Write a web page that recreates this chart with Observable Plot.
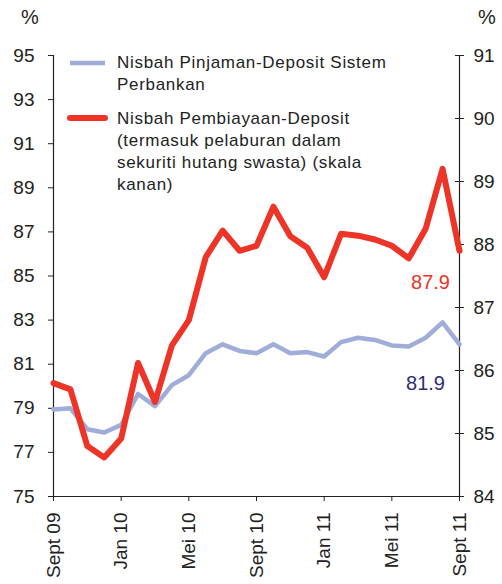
<!DOCTYPE html>
<html><head><meta charset="utf-8">
<script src="https://cdn.jsdelivr.net/npm/d3@7"></script>
<script src="https://cdn.jsdelivr.net/npm/@observablehq/plot@0.6"></script>
<style>body{margin:0;background:#fff;font-family:"Liberation Sans",Arial,sans-serif}</style>
</head><body><div id="chart"></div>
<script>
const months = ["Sept 09","Okt 09","Nov 09","Dis 09","Jan 10","Feb 10","Mac 10","Apr 10","Mei 10","Jun 10","Jul 10","Ogos 10","Sept 10","Okt 10","Nov 10","Dis 10","Jan 11","Feb 11","Mac 11","Apr 11","Mei 11","Jun 11","Jul 11","Ogos 11","Sept 11"];
const tickIdx = [0,4,8,12,16,20,24];
const tickLabels = ["Sept 09","Jan 10","Mei 10","Sept 10","Jan 11","Mei 11","Sept 11"];
// Nisbah Pinjaman-Deposit Sistem Perbankan (left scale, %)
const pinjaman = [78.95,79.0,78.05,77.9,78.25,79.65,79.1,80.05,80.5,81.5,81.9,81.6,81.5,81.9,81.5,81.55,81.35,82.0,82.2,82.1,81.85,81.8,82.2,82.9,81.9];
// Nisbah Pembiayaan-Deposit (right scale, %)
const pembiayaan = [85.8,85.7,84.8,84.62,84.92,86.12,85.5,86.4,86.8,87.8,88.22,87.9,87.98,88.6,88.13,87.95,87.48,88.17,88.14,88.08,87.98,87.78,88.25,89.2,87.9];
const leftTicks = [75,77,79,81,83,85,87,89,91,93,95];
const rightTicks = [84,85,86,87,88,89,90,91];
const legendLabels = [["Nisbah Pinjaman-Deposit Sistem","Perbankan"],["Nisbah Pembiayaan-Deposit","(termasuk pelaburan dalam","sekuriti hutang swasta) (skala","kanan)"]];

const toLeft = r => 75 + (r - 84) * 20 / 7;
const blueData = pinjaman.map((v,i)=>({i, v}));
const redData = pembiayaan.map((v,i)=>({i, v: toLeft(v), raw: v}));
const BLUE = "#9fadd8", RED = "#ee3327";

const chart = Plot.plot({
  width: 502, height: 584,
  marginLeft: 53, marginRight: 43, marginTop: 55, marginBottom: 88,
  style: {fontFamily: '"Liberation Sans", Arial, sans-serif', color: "#222", background: "#fff"},
  x: {type: "linear", domain: [0, 24]},
  y: {domain: [75, 95]},
  marks: [
    Plot.ruleX([0, 24], {stroke: "#222", strokeWidth: 1.2}),
    Plot.ruleY([75], {stroke: "#222", strokeWidth: 1.2}),
    Plot.axisY({ticks: leftTicks, tickSize: 5, tickPadding: 14, fontSize: 19, label: null, stroke: "#222"}),
    Plot.axisY({anchor: "right", ticks: rightTicks.map(toLeft), tickFormat: (d,k) => String(rightTicks[k]), tickSize: 4, tickPadding: 10, fontSize: 19, label: null}),
    Plot.axisY({anchor: "right", ticks: rightTicks.map(toLeft), tickSize: -5, text: null, label: null}),
    Plot.axisX({ticks: tickIdx, tickFormat: (d,k) => tickLabels[k], tickSize: 5, tickPadding: 11, tickRotate: -90, fontSize: 19, label: null}),
    Plot.line(blueData, {x: "i", y: "v", stroke: BLUE, strokeWidth: 4.5}),
    Plot.line(redData, {x: "i", y: "v", stroke: RED, strokeWidth: 6}),
    Plot.text([redData[24]], {x: "i", y: "v", text: d => d.raw.toFixed(1), fill: RED, fontSize: 20, dx: -29, dy: 32}),
    Plot.text([blueData[24]], {x: "i", y: "v", text: d => d.v.toFixed(1), fill: "#2e2c72", fontSize: 20, dx: -34, dy: 39})
  ]
});
document.getElementById("chart").append(chart);

const svg = d3.select(chart);
const f = '"Liberation Sans", Arial, sans-serif';
svg.append("text").attr("x", 30).attr("y", 24).attr("text-anchor","middle").attr("font-size", 20).attr("font-family", f).attr("fill","#222").text("%");
svg.append("text").attr("x", 487).attr("y", 24).attr("text-anchor","middle").attr("font-size", 20).attr("font-family", f).attr("fill","#222").text("%");
// legend
const lg = svg.append("g").attr("font-family", f).attr("font-size", 17).attr("letter-spacing", 0.7).attr("fill", "#222").attr("text-anchor", "start");
const swY = [63, 118], baseY = [68, 124], cols = [BLUE, RED], widths = [4.5, 6];
legendLabels.forEach((lines, k) => {
  lg.append("line").attr("x1", 70).attr("x2", 105).attr("y1", swY[k]).attr("y2", swY[k]).attr("stroke", cols[k]).attr("stroke-width", widths[k]).attr("stroke-linecap", k ? "round" : "butt");
  lines.forEach((t, j) => lg.append("text").attr("x", 117).attr("y", baseY[k] + j * 22).attr("text-anchor", "start").text(t));
});
</script></body></html>
